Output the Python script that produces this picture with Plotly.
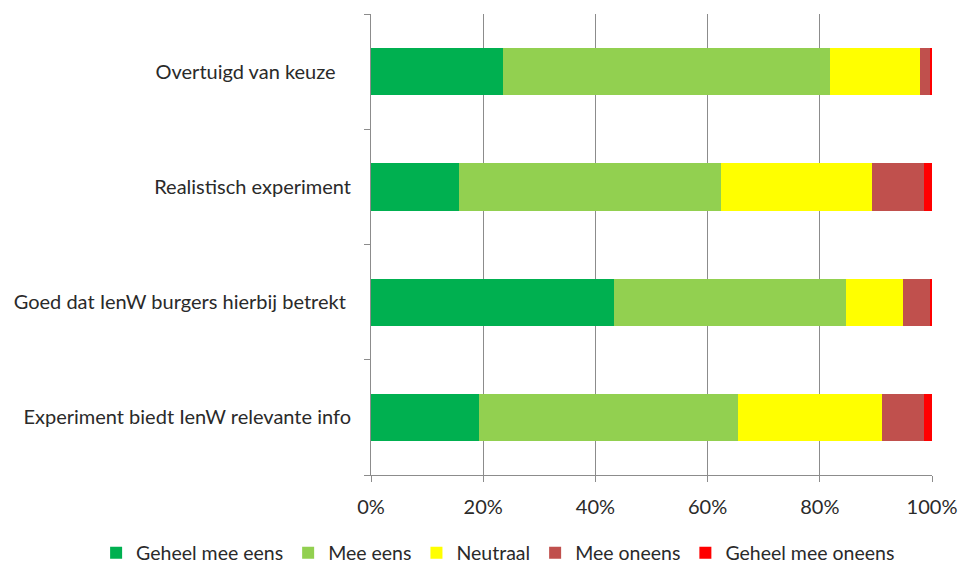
import plotly.graph_objects as go

categories = ["Overtuigd van keuze   ", "Realistisch experiment",
              "Goed dat IenW burgers hierbij betrekt ", "Experiment biedt IenW relevante info"]
series_names = ["Geheel mee eens", "Mee eens", "Neutraal", "Mee oneens", "Geheel mee oneens"]
geheel_mee_eens = [23.5, 15.6, 43.4, 19.3]
mee_eens = [58.4, 46.7, 41.3, 46.2]
neutraal = [16.0, 27.0, 10.2, 25.6]
mee_oneens = [1.9, 9.2, 4.7, 7.4]
geheel_mee_oneens = [0.2, 1.5, 0.4, 1.5]
colors = ["#00B050", "#92D050", "#FFFF00", "#C0504D", "#FF0000"]
x_ticks = [0, 20, 40, 60, 80, 100]
x_ticktext = ["0%", "20%", "40%", "60%", "80%", "100%"]

values = [geheel_mee_eens, mee_eens, neutraal, mee_oneens, geheel_mee_oneens]

fig = go.Figure()
for name, vals, col in zip(series_names, values, colors):
    fig.add_trace(go.Bar(y=categories, x=vals, name=name, orientation="h",
                         marker=dict(color=col, line=dict(width=0)), width=0.41))

font = dict(family="Lato, Open Sans, sans-serif", size=20, color="#2a2a2a")
fig.update_layout(
    barmode="stack",
    width=959, height=565,
    margin=dict(l=371, r=27, t=14, b=90, autoexpand=False),
    plot_bgcolor="white", paper_bgcolor="white",
    font=font,
    showlegend=True,
    legend=dict(orientation="h", xref="paper", yref="paper",
                x=-0.49, xanchor="left", y=-0.127, yanchor="top",
                font=dict(size=19.5), traceorder="normal"),
    xaxis=dict(range=[0, 100], tickmode="array", tickvals=x_ticks, ticktext=x_ticktext,
               showgrid=True, gridcolor="#8C8C8C", gridwidth=1,
               showline=True, linecolor="#8C8C8C", ticks="outside",
               tickcolor="#8C8C8C", ticklen=6, zeroline=False,
               ticklabelstandoff=8, automargin=False),
    yaxis=dict(categoryorder="array", categoryarray=categories[::-1],
               showline=True, linecolor="#8C8C8C", ticks="outside",
               tickson="boundaries", tickcolor="#8C8C8C", ticklen=6,
               showgrid=False, ticklabelstandoff=15, automargin=False),
)
fig.write_html("out.html")
